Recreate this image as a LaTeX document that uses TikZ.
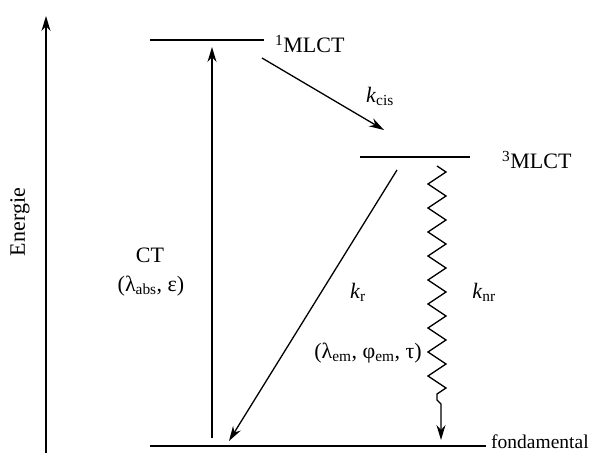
\documentclass[tikz,border=0pt]{standalone}
\usepackage{fontspec}
\setmainfont{Liberation Serif}
\usetikzlibrary{arrows.meta,decorations.pathmorphing}
\begin{document}
\begin{tikzpicture}[x=1pt,y=-1pt,
  level/.style={line width=2pt},
  arr/.style={line width=1.3pt,-{Stealth[length=15pt,width=9pt]}},
  lab/.style={inner sep=0pt,font=\fontsize{22}{25}\selectfont},
  biglab/.style={inner sep=0pt,anchor=west,font=\fontsize{22}{25}\selectfont}]
\useasboundingbox (0,0) rectangle (598,453);
% energy axis
\coordinate (eb) at (46,453);
\coordinate (et) at (46,16);
\draw[arr] (eb) -- (et);
\node[lab,rotate=90] (en) at (20,222) {Energie};
% levels
\coordinate (s1a) at (150,40);
\coordinate (s1b) at (264,40);
\draw[level] (s1a) -- (s1b);
\node[biglab] (s1) at (275,44) {\textsuperscript{1}MLCT};
\coordinate (t1a) at (360,157);
\coordinate (t1b) at (470,157);
\draw[level] (t1a) -- (t1b);
\node[biglab] (t1) at (502,160) {\textsuperscript{3}MLCT};
\coordinate (g0a) at (150,446);
\coordinate (g0b) at (486,446);
\draw[level] (g0a) -- (g0b);
\node[inner sep=0pt,anchor=west,font=\fontsize{19.5}{22}\selectfont] (gl) at (491,442) {fondamental};
% absorption
\coordinate (ab) at (212,438);
\coordinate (at) at (212,47);
\draw[arr] (ab) -- (at);
\node[lab] (ct) at (150,255) {CT};
\node[lab] (ctp) at (151,286) {(λ\textsubscript{abs}, ε)};
% ISC
\coordinate (ia) at (262,58);
\coordinate (ib) at (384,130);
\draw[arr] (ia) -- (ib);
\node[lab] (kc) at (380,96) {\textit{k}\textsubscript{cis}};
% emission
\coordinate (ma) at (397,170);
\coordinate (mb) at (229,441);
\draw[arr] (ma) -- (mb);
\node[lab] (kr) at (358,292) {\textit{k}\textsubscript{r}};
\node[lab] (em) at (368,353) {(λ\textsubscript{em}, φ\textsubscript{em}, τ)};
% nonradiative
\coordinate (za) at (437,166);
\coordinate (zb) at (437,400);
\coordinate (zk) at (441,404);
\coordinate (zc) at (441,440);
\draw[arr,line join=miter] decorate[decoration={zigzag,segment length=24pt,amplitude=9pt}]{(za) -- (zb)} -- (zk) -- (zc);
\node[lab] (knr) at (484,292) {\textit{k}\textsubscript{nr}};
\end{tikzpicture}
\end{document}
